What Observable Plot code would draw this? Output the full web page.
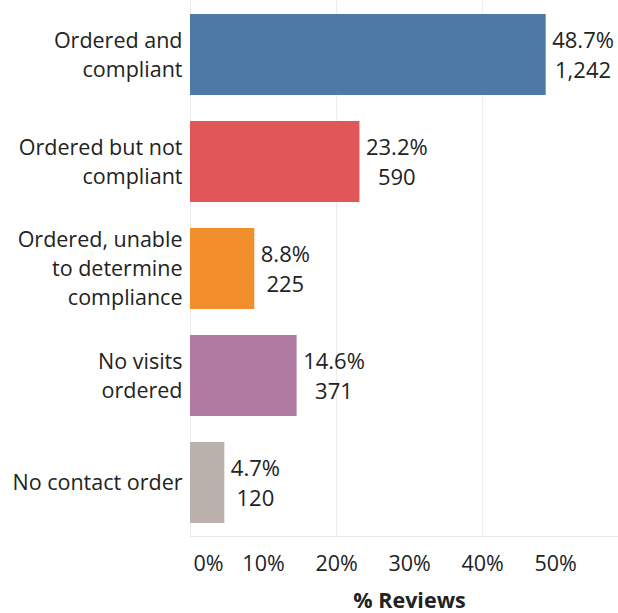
<!DOCTYPE html>
<html>
<head>
<meta charset="utf-8">
<script src="https://cdn.jsdelivr.net/npm/d3@7"></script>
<script src="https://cdn.jsdelivr.net/npm/@observablehq/plot@0.6"></script>
<style>
  html, body { margin: 0; padding: 0; background: #fff; }
</style>
</head>
<body>
<div id="chart"></div>
<script>
const categories = ["Ordered and compliant", "Ordered but not compliant", "Ordered, unable to determine compliance", "No visits ordered", "No contact order"];
const categoryLabels = ["Ordered and\ncompliant", "Ordered but not\ncompliant", "Ordered, unable\nto determine\ncompliance", "No visits\nordered", "No contact order"];
const percents = [48.7, 23.2, 8.8, 14.6, 4.7];
const counts = [1242, 590, 225, 371, 120];
const colors = ["#4e79a7", "#e15759", "#f28e2b", "#b07aa1", "#bab0ac"];
const xTicks = [10, 20, 30, 40, 50];
const xStartTick = [0];
const gridTicks = [0, 20, 40];
const xTitle = "% Reviews";

const data = categories.map((c, i) => ({category: c, pct: percents[i], count: counts[i]}));
const fmt = d3.format(",");
const font = "'Open Sans', sans-serif";
const textColor = "#222";

const bottomLine = (index, scales, values, dims) => {
  const y = dims.height - dims.marginBottom + 0.5;
  const line = document.createElementNS("http://www.w3.org/2000/svg", "line");
  line.setAttribute("x1", dims.marginLeft);
  line.setAttribute("x2", dims.width - dims.marginRight);
  line.setAttribute("y1", y);
  line.setAttribute("y2", y);
  line.setAttribute("stroke", "#e6e6e6");
  return line;
};

const chart = Plot.plot({
  width: 618,
  height: 613,
  marginTop: 0,
  marginLeft: 190,
  marginRight: 0,
  marginBottom: 77,
  style: {fontFamily: font, fontSize: "21px", color: textColor, background: "#fff"},
  x: {domain: [0, 58.6], axis: null},
  y: {domain: categories, paddingInner: 0.245, paddingOuter: 0.1225, axis: null},
  color: {domain: categories, range: colors},
  marks: [
    Plot.gridX(gridTicks, {stroke: "#ebebeb", strokeOpacity: 1}),
    bottomLine,
    Plot.barX(data, {x: "pct", y: "category", fill: "category"}),
    Plot.text(data, {
      x: "pct", y: "category",
      text: d => `${d.pct.toFixed(1)}%\n${fmt(d.count)}`,
      textAnchor: "middle", lineHeight: 1.36, fontSize: 22, fill: textColor, dy: -2
    }),
    Plot.axisY({
      tickSize: 0, tickPadding: 8, fontSize: 21.5, lineHeight: 1.34, fill: textColor, dy: -2,
      tickFormat: d => categoryLabels[categories.indexOf(d)], label: null
    }),
    Plot.axisX({ticks: xTicks, tickSize: 0, tickPadding: 19, fontSize: 21.5, fill: textColor, tickFormat: d => d + "%", label: null}),
    Plot.axisX({ticks: xStartTick, tickSize: 0, tickPadding: 19, fontSize: 21.5, fill: textColor, textAnchor: "start", dx: 3, tickFormat: d => d + "%", label: null}),
    Plot.text([xTitle], {frameAnchor: "bottom", lineAnchor: "middle", text: d => d, fontSize: 21.5, fontWeight: "bold", fill: textColor, dy: 65, dx: 5})
  ]
});

document.getElementById("chart").appendChild(chart);

// center each two-line value label on itself, just to the right of its bar
chart.querySelectorAll("text").forEach(t => {
  if (t.querySelectorAll("tspan").length !== 2) return;
  const first = t.querySelector("tspan").textContent;
  if (!/^[\d.]+%$/.test(first)) return;
  const w = t.getBBox().width;
  const tr = t.getAttribute("transform") || "";
  t.setAttribute("transform", tr + ` translate(${w / 2 + 6},0)`);
});
</script>
</body>
</html>
